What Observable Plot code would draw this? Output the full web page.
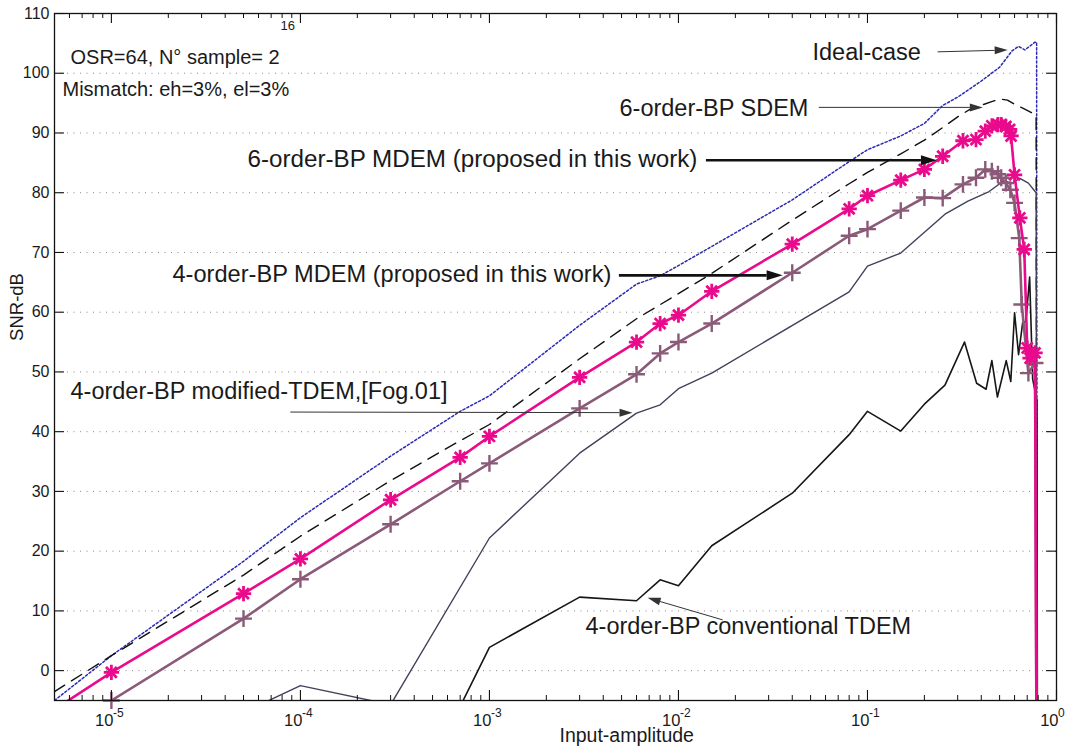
<!DOCTYPE html>
<html>
<head>
<meta charset="utf-8">
<script src="https://cdn.jsdelivr.net/npm/d3@7"></script>
<script src="https://cdn.jsdelivr.net/npm/@observablehq/plot@0.6"></script>
<style>
  html, body { margin: 0; padding: 0; background: #fff; }
  #chart { width: 1066px; height: 746px; }
</style>
</head>
<body>
<div id="chart"></div>
<script>
// ---------- data ----------
const xMajorTicks = [1e-5, 1e-4, 1e-3, 1e-2, 1e-1, 1];
const xTickExponents = ["-5", "-4", "-3", "-2", "-1", "0"];
const yTicks = [0, 10, 20, 30, 40, 50, 60, 70, 80, 90, 100, 110];
const yGrid = [0, 10, 20, 30, 40, 50, 60, 70, 80, 90, 100];

// Ideal-case (blue dotted)
const ampIdeal = [5e-6, 1e-5, 5e-5, 1e-4, 3e-4, 7e-4, 1e-3, 3e-3, 6e-3, 8e-3, 1e-2, 1.5e-2, 4e-2, 8e-2, 0.1, 0.15, 0.2, 0.25, 0.3, 0.4, 0.5, 0.58, 0.63, 0.68, 0.77, 0.785, 0.79];
const snrIdeal = [-5, 2.5, 18.3, 25.6, 35.9, 43.4, 46, 57.8, 64.7, 66.1, 67.8, 71, 78.8, 85.2, 87.2, 89.5, 91.6, 94.6, 96, 98.7, 101, 103.7, 104.5, 103.9, 105.2, 105.2, -40];

// 6-order-BP SDEM (black dashed)
const ampSDEM = [5e-6, 1e-5, 5e-5, 1e-4, 3e-4, 6e-4, 1e-3, 3e-3, 6e-3, 1e-2, 1.5e-2, 4e-2, 8e-2, 0.1, 0.15, 0.2, 0.25, 0.3, 0.35, 0.45, 0.5, 0.55, 0.6, 0.7, 0.78, 0.79];
const snrSDEM = [-3.5, 2.5, 16, 22.5, 31.8, 37.3, 41.2, 52.2, 58.9, 63.1, 66.5, 75.4, 81.5, 83.4, 86.5, 88.8, 90.9, 92.7, 94, 95.2, 95.7, 95.5, 94.8, 93.8, 93, -40];

// 6-order-BP MDEM (magenta, asterisks)
const ampMDEM6 = [5e-6, 1e-5, 5e-5, 1e-4, 3e-4, 7e-4, 1e-3, 3e-3, 6e-3, 8e-3, 1e-2, 1.5e-2, 4e-2, 8e-2, 0.1, 0.15, 0.2, 0.25, 0.32, 0.375, 0.42, 0.455, 0.49, 0.51, 0.54, 0.565, 0.575, 0.6, 0.64, 0.675, 0.7, 0.725, 0.77, 0.79];
const snrMDEM6 = [-6.5, -0.3, 12.9, 18.7, 28.6, 35.7, 39.2, 49.1, 55, 58.1, 59.5, 63.5, 71.4, 77.3, 79.5, 82.1, 83.9, 86.1, 88.7, 88.9, 90.3, 91.2, 91.4, 91.4, 91.1, 90.6, 89.5, 83, 75.8, 70.5, 54, 52.3, 53.2, -40];

// 4-order-BP MDEM (mauve, plus)
const ampMDEM4 = [1e-5, 5e-5, 1e-4, 3e-4, 7e-4, 1e-3, 3e-3, 6e-3, 8e-3, 1e-2, 1.5e-2, 4e-2, 8e-2, 0.1, 0.15, 0.2, 0.25, 0.32, 0.375, 0.42, 0.455, 0.49, 0.51, 0.54, 0.57, 0.6, 0.635, 0.655, 0.71, 0.77, 0.79];
const snrMDEM4 = [-5, 8.7, 15.3, 24.5, 31.7, 34.7, 43.9, 49.6, 53.1, 55, 58.1, 66.6, 72.8, 73.9, 77, 79.2, 79.1, 81.4, 82.5, 83.9, 83.6, 83.1, 82.5, 81.6, 80.5, 78.3, 72.4, 61.3, 49.8, 51.5, -40];

// 4-order-BP modified-TDEM [Fog.01] (slate)
const ampModTDEM = [5e-5, 1e-4, 3e-4, 1e-3, 3e-3, 6e-3, 8e-3, 1e-2, 1.5e-2, 8e-2, 0.1, 0.15, 0.257, 0.34, 0.44, 0.526, 0.58, 0.64, 0.71, 0.78, 0.79];
const snrModTDEM = [-7, -2.5, -5.7, 22.2, 36.4, 43.1, 44.5, 47.2, 49.8, 63.4, 67.7, 69.9, 76.4, 78.6, 80.2, 82, 81.6, 82.4, 81.6, 80, -40];

// 4-order-BP conventional TDEM (black)
const ampConvTDEM = [7e-4, 1e-3, 3e-3, 6e-3, 8e-3, 1e-2, 1.5e-2, 4e-2, 8e-2, 0.1, 0.15, 0.2, 0.257, 0.326, 0.378, 0.424, 0.455, 0.487, 0.542, 0.573, 0.6, 0.63, 0.662, 0.689, 0.721, 0.748, 0.788, 0.795];
const snrConvTDEM = [-6, 3.9, 12.3, 11.7, 15.2, 14.2, 20.9, 29.7, 39.5, 43.4, 40.1, 44.6, 47.8, 55, 48.1, 47.1, 51.9, 45.8, 51.9, 48.4, 59.9, 52.9, 58.2, 58.5, 65.9, 48.8, 45.2, -40];

// ---------- build ----------
const zip = (xs, ys) => xs.map((x, i) => ({x, y: ys[i]}));
const ideal = zip(ampIdeal, snrIdeal);
const sdem = zip(ampSDEM, snrSDEM);
const mdem6 = zip(ampMDEM6, snrMDEM6);
const mdem4 = zip(ampMDEM4, snrMDEM4);
const modT = zip(ampModTDEM, snrModTDEM);
const convT = zip(ampConvTDEM, snrConvTDEM);
const inView = d => d.y >= -5 && d.y <= 110;

const xMinor = [];
for (let e = -6; e <= -1; e++) for (let k = 2; k <= 9; k++) {
  const v = k * Math.pow(10, e);
  if (v > 5e-6 && v < 1) xMinor.push(v);
}

const W = 1066, H = 746, mL = 54, mR = 10, mT = 13, mB = 46;
const pw = W - mL - mR, ph = H - mT - mB;

const C_BLUE = "#2a2ab4", C_PINK = "#ea0a8c", C_MAUVE = "#8a5a78", C_SLATE = "#41415a", C_BLACK = "#161616";

function arrowsMark(index, scales) {
  const specs = [
    {x1: 0.2364, y1: 103.5, x2: 0.555, y2: 103.8, w: 1, L: 13, h: 4, c: "#333"},
    {x1: 0.0556, y1: 94.2, x2: 0.41, y2: 94.2, w: 1, L: 13, h: 4, c: "#333"},
    {x1: 0.01406, y1: 85.36, x2: 0.2344, y2: 85.36, w: 2.6, L: 16, h: 5, c: "#111"},
    {x1: 0.00487, y1: 66.08, x2: 0.0358, y2: 66.08, w: 2.6, L: 16, h: 5, c: "#111"},
    {x1: 8.9e-5, y1: 43.2, x2: 5.75e-3, y2: 43.1, w: 1, L: 13, h: 4, c: "#333"},
    {x1: 0.01724, y1: 8.41, x2: 6.91e-3, y2: 12.1, w: 1, L: 13, h: 4, c: "#333"}
  ];
  const g = d3.create("svg:g");
  for (const a of specs) {
    const x1 = scales.x(a.x1), y1 = scales.y(a.y1), x2 = scales.x(a.x2), y2 = scales.y(a.y2);
    const ang = Math.atan2(y2 - y1, x2 - x1);
    const bx = x2 - a.L * Math.cos(ang), by = y2 - a.L * Math.sin(ang);
    g.append("line").attr("x1", x1).attr("y1", y1).attr("x2", bx).attr("y2", by)
      .attr("stroke", a.c).attr("stroke-width", a.w);
    const px = -Math.sin(ang) * a.h, py = Math.cos(ang) * a.h;
    g.append("path").attr("d", `M${x2},${y2}L${bx + px},${by + py}L${bx - px},${by - py}Z`).attr("fill", a.c);
  }
  return g.node();
}

const ann = (text, dx, dy, size) => Plot.text([text], {
  frameAnchor: "top-left", textAnchor: "start", lineAnchor: "bottom",
  dx, dy, fontSize: size, fill: "#1a1a1a"
});

const chart = Plot.plot({
  width: W, height: H,
  marginLeft: mL, marginRight: mR, marginTop: mT, marginBottom: mB,
  x: {type: "log", domain: [5e-6, 1], axis: null},
  y: {domain: [-5, 110], axis: null},
  style: {fontFamily: "'Liberation Sans', Arial, Helvetica, sans-serif", fontSize: "15px", background: "#fff", color: "#1a1a1a"},
  marks: [
    // grid
    Plot.ruleY(yGrid, {y: d => d, stroke: "#8a8a8a", strokeWidth: 1, strokeDasharray: "1,5.5"}),
    // series lines
    Plot.line(ideal, {x: "x", y: "y", stroke: C_BLUE, strokeWidth: 1.5, strokeDasharray: "2.2,2.2", clip: true}),
    Plot.line(sdem, {x: "x", y: "y", stroke: "#111", strokeWidth: 1.4, strokeDasharray: "12,8", clip: true}),
    Plot.line(convT, {x: "x", y: "y", stroke: C_BLACK, strokeWidth: 1.6, clip: true}),
    Plot.line(modT, {x: "x", y: "y", stroke: C_SLATE, strokeWidth: 1.4, clip: true}),
    Plot.line(mdem4, {x: "x", y: "y", stroke: C_MAUVE, strokeWidth: 2.6, clip: true}),
    Plot.dot(mdem4.filter(inView), {x: "x", y: "y", symbol: "plus", r: 5.5, stroke: C_MAUVE, strokeWidth: 2.4}),
    Plot.line(mdem6, {x: "x", y: "y", stroke: C_PINK, strokeWidth: 2.6, clip: true}),
    Plot.dot(mdem6.filter(inView), {x: "x", y: "y", symbol: "plus", r: 5, stroke: C_PINK, strokeWidth: 2.8}),
    Plot.dot(mdem6.filter(inView), {x: "x", y: "y", symbol: "times", r: 5, stroke: C_PINK, strokeWidth: 2.8}),
    // frame & ticks
    Plot.frame({stroke: "#111", strokeWidth: 1.3}),
    Plot.ruleX(xMajorTicks, {x: d => d, insetTop: ph - 10, stroke: "#111", strokeWidth: 1.1}),
    Plot.ruleX(xMajorTicks, {x: d => d, insetBottom: ph - 10, stroke: "#111", strokeWidth: 1.1}),
    Plot.ruleX(xMinor, {x: d => d, insetTop: ph - 5, stroke: "#111", strokeWidth: 1}),
    Plot.ruleX(xMinor, {x: d => d, insetBottom: ph - 5, stroke: "#111", strokeWidth: 1}),
    Plot.ruleY(yTicks, {y: d => d, insetRight: pw - 10, stroke: "#111", strokeWidth: 1.1}),
    Plot.ruleY(yTicks, {y: d => d, insetLeft: pw - 10, stroke: "#111", strokeWidth: 1.1}),
    // tick labels
    Plot.text(yTicks, {y: d => d, text: d => String(d), frameAnchor: "left", textAnchor: "end", dx: -5, fontSize: 16, fill: "#1a1a1a"}),
    Plot.text(xMajorTicks, {x: d => d, text: () => "10", frameAnchor: "bottom", textAnchor: "end", lineAnchor: "bottom", dx: 2, dy: 25, fontSize: 16.5, fill: "#1a1a1a"}),
    Plot.text(xMajorTicks, {x: d => d, text: (d, i) => xTickExponents[i], frameAnchor: "bottom", textAnchor: "start", lineAnchor: "bottom", dx: 1.5, dy: 16, fontSize: 12, fill: "#1a1a1a"}),
    // axis titles
    Plot.text(["Input-amplitude"], {frameAnchor: "bottom-left", textAnchor: "start", lineAnchor: "bottom", dx: 505, dy: 41, fontSize: 19.5, fill: "#1a1a1a"}),
    Plot.text(["SNR-dB"], {frameAnchor: "left", rotate: -90, textAnchor: "middle", lineAnchor: "middle", dx: -37, dy: -50, fontSize: 18.5, fill: "#1a1a1a"}),
    // annotations
    ann("OSR=64, N° sample= 2", 16, 50, 20),
    ann("Mismatch: eh=3%, el=3%", 8, 82, 20),
    ann("16", 226, 16.5, 13),
    ann("Ideal-case", 758, 46, 23.5),
    ann("6-order-BP SDEM", 565, 102, 23.5),
    ann("6-order-BP MDEM (proposed in this work)", 193, 153, 24.2),
    ann("4-order-BP MDEM (proposed in this work)", 118, 268, 23.6),
    ann("4-order-BP modified-TDEM,[Fog.01]", 16, 385, 23.5),
    ann("4-order-BP conventional TDEM", 531, 620, 23.5),
    arrowsMark
  ]
});
document.getElementById("chart").appendChild(chart);
</script>
</body>
</html>
